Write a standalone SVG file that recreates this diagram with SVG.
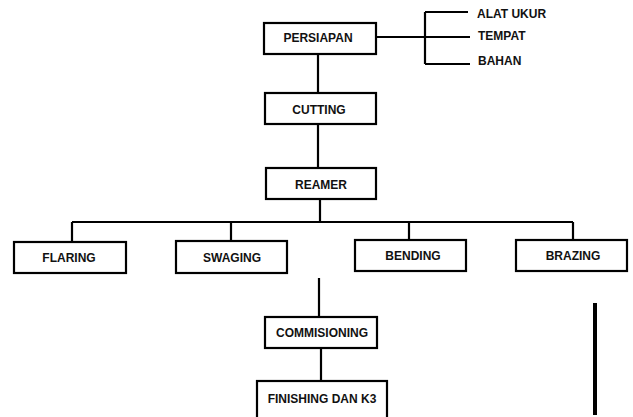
<svg xmlns="http://www.w3.org/2000/svg" width="633" height="417" viewBox="0 0 633 417">
<style>
.box{fill:#fff;stroke:#000;stroke-width:2.2}
.ln{fill:none;stroke:#000;stroke-width:2.2}
.t{font-family:"Liberation Sans",Arial,sans-serif;font-weight:bold;font-size:12px;fill:#111;text-anchor:middle}
.tl{font-family:"Liberation Sans",Arial,sans-serif;font-weight:bold;font-size:12px;fill:#111}
</style>
<rect width="633" height="417" fill="#fff"/>
<g id="connectors">
<path class="ln" d="M376,37H470M425,12V64M425,12H468M425,64H470"/>
<path class="ln" d="M318,54V93M318,124V168"/>
<path class="ln" d="M320,199V222M72,222H573M72,222V242M231,222V241M409,222V240M573,222V240"/>
<path class="ln" d="M319,278V317M321,348V381"/>
<path d="M595,303V415" stroke="#000" stroke-width="4"/>
</g>
<g id="persiapan"><rect class="box" x="264" y="23" width="112" height="31"/><text class="t" x="318" y="42">PERSIAPAN</text></g>
<g id="alat-ukur"><text class="tl" x="477" y="18">ALAT UKUR</text></g>
<g id="tempat"><text class="tl" x="478" y="40">TEMPAT</text></g>
<g id="bahan"><text class="tl" x="478" y="65">BAHAN</text></g>
<g id="cutting"><rect class="box" x="265" y="93" width="111" height="31"/><text class="t" x="319" y="114">CUTTING</text></g>
<g id="reamer"><rect class="box" x="266" y="168" width="110" height="31"/><text class="t" x="321" y="189">REAMER</text></g>
<g id="flaring"><rect class="box" x="14" y="242" width="112" height="31"/><text class="t" x="69" y="262">FLARING</text></g>
<g id="swaging"><rect class="box" x="176" y="241" width="111" height="32"/><text class="t" x="232" y="262">SWAGING</text></g>
<g id="bending"><rect class="box" x="355" y="240" width="111" height="31"/><text class="t" x="413" y="260">BENDING</text></g>
<g id="brazing"><rect class="box" x="516" y="240" width="111" height="31"/><text class="t" x="573" y="260">BRAZING</text></g>
<g id="commisioning"><rect class="box" x="265" y="317" width="112" height="31"/><text class="t" x="322" y="337">COMMISIONING</text></g>
<g id="finishing"><rect class="box" x="257" y="381" width="130" height="45"/><text class="t" x="322" y="403">FINISHING DAN K3</text></g>
</svg>
